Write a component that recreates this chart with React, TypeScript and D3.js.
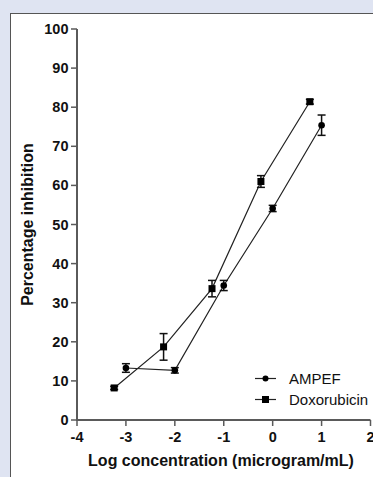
import React from "react";
import * as d3 from "d3";

const ampefX = [-3, -2, -1, 0, 1];
const ampefY = [13.3, 12.7, 34.4, 54.1, 75.4];
const ampefErr = [1.1, 0.7, 1.3, 0.8, 2.6];

const doxoX = [-3.24, -2.23, -1.24, -0.24, 0.76];
const doxoY = [8.2, 18.7, 33.6, 61.0, 81.4];
const doxoErr = [0.4, 3.4, 2.1, 1.5, 0.6];

const xTicks = [-4, -3, -2, -1, 0, 1, 2];
const yTicks = [0, 10, 20, 30, 40, 50, 60, 70, 80, 90, 100];

const W = 373;
const H = 477;

export default function App() {
  const x = d3.scaleLinear().domain([-4, 2]).range([77, 370.5]);
  const y = d3.scaleLinear().domain([0, 100]).range([420, 29]);
  const line = d3
    .line<[number, number]>()
    .x((d) => x(d[0]))
    .y((d) => y(d[1]));
  const font = "'Liberation Sans', Arial, Helvetica, sans-serif";
  const axisColor = "#5a5a5a";

  const series = [
    { name: "AMPEF", xs: ampefX, ys: ampefY, es: ampefErr, shape: "circle" },
    { name: "Doxorubicin", xs: doxoX, ys: doxoY, es: doxoErr, shape: "square" },
  ];

  return (
    <svg
      width={W}
      height={H}
      style={{ position: "absolute", left: 0, top: 0, display: "block" }}
      fontFamily={font}
    >
      <rect x={0} y={0} width={W} height={H} fill="#dfe4f2" />
      <rect x={10.5} y={13.5} width={W} height={H} fill="#ffffff" stroke="#555" strokeWidth={1} />

      {/* series */}
      {series.map((s) => {
        const pts = s.xs.map((v, i) => [v, s.ys[i]] as [number, number]);
        return (
          <g key={s.name}>
            <path d={line(pts) || ""} fill="none" stroke="#222" strokeWidth={1.2} />
            {pts.map((p, i) => {
              const cx = x(p[0]);
              const cy = y(p[1]);
              const t = y(p[1] + s.es[i]);
              const b = y(p[1] - s.es[i]);
              return (
                <g key={i}>
                  <line x1={cx} x2={cx} y1={t} y2={b} stroke="#111" strokeWidth={1.5} />
                  <line x1={cx - 4} x2={cx + 4} y1={t} y2={t} stroke="#111" strokeWidth={1.5} />
                  <line x1={cx - 4} x2={cx + 4} y1={b} y2={b} stroke="#111" strokeWidth={1.5} />
                  {s.shape === "circle" ? (
                    <circle cx={cx} cy={cy} r={3.3} fill="#000" />
                  ) : (
                    <rect x={cx - 3.5} y={cy - 3.5} width={7} height={7} fill="#000" />
                  )}
                </g>
              );
            })}
          </g>
        );
      })}

      {/* y axis */}
      <line x1={77} x2={77} y1={y(100)} y2={y(0)} stroke={axisColor} strokeWidth={2} />
      {yTicks.map((t) => (
        <g key={t}>
          <line x1={71} x2={77} y1={y(t)} y2={y(t)} stroke={axisColor} strokeWidth={1.5} />
          <text
            x={68.5}
            y={y(t) + 5}
            textAnchor="end"
            fontSize={14.5}
            fontWeight="bold"
            fill="#111"
          >
            {t}
          </text>
        </g>
      ))}

      {/* x axis */}
      <line x1={76} x2={x(2)} y1={420} y2={420} stroke={axisColor} strokeWidth={2} />
      {xTicks.map((t) => (
        <g key={t}>
          <line x1={x(t)} x2={x(t)} y1={420} y2={426} stroke={axisColor} strokeWidth={1.5} />
          <text
            x={x(t)}
            y={442}
            textAnchor="middle"
            fontSize={14.5}
            fontWeight="bold"
            fill="#111"
          >
            {t}
          </text>
        </g>
      ))}

      <text
        x={221}
        y={466}
        textAnchor="middle"
        fontSize={16}
        fontWeight="bold"
        fill="#111"
      >
        Log concentration (microgram/mL)
      </text>
      <text
        transform={`translate(33,${y(50)}) rotate(-90)`}
        textAnchor="middle"
        fontSize={16}
        fontWeight="bold"
        fill="#111"
      >
        Percentage inhibition
      </text>

      {/* legend */}
      {series.map((s, i) => {
        const ly = 378.5 + i * 21;
        return (
          <g key={s.name}>
            <line x1={255} x2={276} y1={ly} y2={ly} stroke="#222" strokeWidth={1.2} />
            {s.shape === "circle" ? (
              <circle cx={265.5} cy={ly} r={3} fill="#000" />
            ) : (
              <rect x={262} y={ly - 3.5} width={7} height={7} fill="#000" />
            )}
            <text x={289} y={ly + 5.3} fontSize={15} fill="#111">
              {s.name}
            </text>
          </g>
        );
      })}
    </svg>
  );
}
